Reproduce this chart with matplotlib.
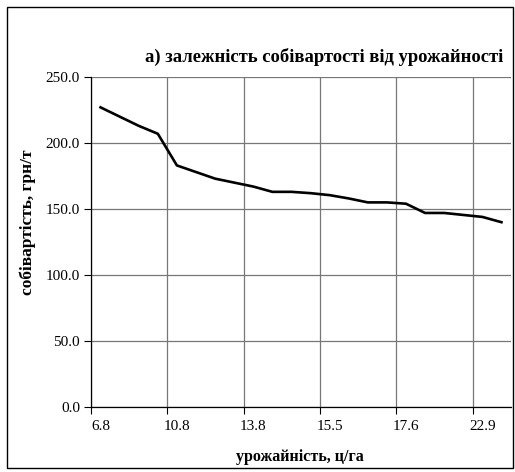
import numpy as np
import matplotlib.pyplot as plt
from matplotlib.ticker import FixedLocator, FormatStrFormatter
from matplotlib.patches import Rectangle

plt.rcParams['font.family'] = ['Liberation Serif', 'DejaVu Serif']

# урожайність, ц/га (категорії; підписано кожну четверту)
urozhainist = ['6.8', '7.8', '8.8', '9.8', '10.8', '11.6', '12.3', '13.0',
               '13.8', '14.2', '14.6', '15.0', '15.5', '16.0', '16.5', '17.0',
               '17.6', '18.6', '19.8', '21.2', '22.9', '24.5']
# собівартість, грн/т
sobivartist = [227, 220, 213, 207, 183, 178, 173, 170,
               167, 163, 163, 162, 160.5, 158, 155, 155,
               154, 147, 147, 145.5, 144, 140]
y_ticks = [0, 50, 100, 150, 200, 250]

W, H = 515, 472
fig = plt.figure(figsize=(W / 100, H / 100), dpi=100)
ax = fig.add_axes([91 / W, 1 - 407 / H, (511 - 91) / W, (407 - 77) / H])

x = np.arange(len(urozhainist))
ax.plot(x, sobivartist, color='black', lw=1.9, solid_joinstyle='round')

ax.set_xlim(-0.5, len(urozhainist) - 0.5)
ax.set_ylim(0, 250)

# вертикальна сітка між категоріями, підписи по центру категорій
major = np.arange(-0.5, len(urozhainist) - 0.5, 4)
ax.xaxis.set_major_locator(FixedLocator(major))
ax.xaxis.set_major_formatter(plt.NullFormatter())
lab_pos = x[::4]
ax.xaxis.set_minor_locator(FixedLocator(lab_pos))
ax.set_xticklabels([urozhainist[i] for i in lab_pos], minor=True)
ax.tick_params(axis='x', which='minor', length=0, pad=9, labelsize=11)
ax.tick_params(axis='x', which='major', direction='out', length=5, width=0.8)

ax.set_yticks(y_ticks)
ax.yaxis.set_major_formatter(FormatStrFormatter('%.1f'))
ax.tick_params(axis='y', direction='out', length=5, width=0.8, labelsize=11, pad=3)

ax.grid(True, which='major', color='#777777', lw=0.9)
ax.set_axisbelow(True)
for s in ['top', 'right']:
    ax.spines[s].set_visible(False)
ax.spines['left'].set_linewidth(0.9)
ax.spines['bottom'].set_linewidth(0.9)

fig.text(324 / W, 1 - 57 / H, 'а) залежність собівартості від урожайності',
         ha='center', va='center', fontsize=13.4, fontweight='bold')
fig.text(300 / W, 1 - 457 / H, 'урожайність, ц/га',
         ha='center', va='center', fontsize=11.5, fontweight='bold')
fig.text(28 / W, 1 - 222 / H, 'собівартість, грн/т', rotation=90,
         ha='center', va='center', fontsize=12.5, fontweight='bold')

fig.patches.append(Rectangle((7 / W, 1 - 468 / H), (513 - 7) / W, (468 - 7) / H,
                             transform=fig.transFigure, fill=False,
                             edgecolor='black', lw=1.0))

fig.savefig('out.png', dpi=100)
